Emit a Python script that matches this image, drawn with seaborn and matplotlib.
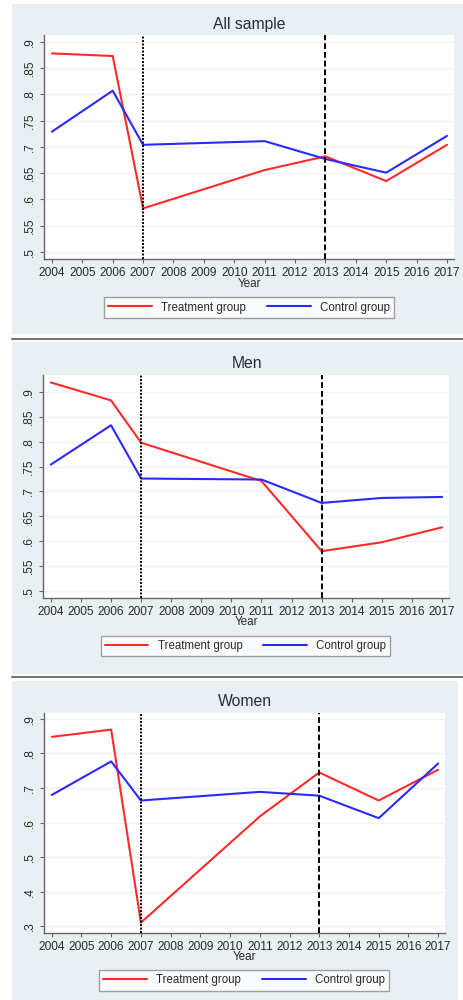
import numpy as np
import pandas as pd
import matplotlib
matplotlib.use("Agg")
import matplotlib.pyplot as plt
from matplotlib.patches import Rectangle
from matplotlib.lines import Line2D
import seaborn as sns

# ---- data -------------------------------------------------------------
years = [2004, 2006, 2007, 2011, 2013, 2015, 2017]

all_treatment = [0.878, 0.873, 0.583, 0.656, 0.682, 0.635, 0.704]
all_control = [0.729, 0.807, 0.704, 0.711, 0.677, 0.651, 0.721]

men_treatment = [0.919, 0.883, 0.798, 0.721, 0.580, 0.598, 0.628]
men_control = [0.754, 0.833, 0.726, 0.724, 0.677, 0.687, 0.689]

women_treatment = [0.848, 0.869, 0.311, 0.618, 0.745, 0.664, 0.753]
women_control = [0.680, 0.777, 0.664, 0.689, 0.678, 0.613, 0.771]

panel_titles = ["All sample", "Men", "Women"]
group_names = ["Treatment group", "Control group"]
x_ticks = list(range(2004, 2018))
y_ticks_a = [0.5, 0.55, 0.6, 0.65, 0.7, 0.75, 0.8, 0.85, 0.9]
y_labels_a = [".5", ".55", ".6", ".65", ".7", ".75", ".8", ".85", ".9"]
y_ticks_b = [0.3, 0.4, 0.5, 0.6, 0.7, 0.8, 0.9]
y_labels_b = [".3", ".4", ".5", ".6", ".7", ".8", ".9"]
event_years = [2007, 2013]

# ---- style ------------------------------------------------------------
sns.set_theme(style="white")
plt.rcParams["font.family"] = ["Liberation Sans", "DejaVu Sans"]

W, H = 463, 1000
fig = plt.figure(figsize=(W / 100, H / 100), dpi=100)
fig.patch.set_facecolor("white")

BG = "#e9f0f3"
AXIS = "#666666"
TXT = "#2a2a2a"
palette = {"Treatment group": "#ff2a2a", "Control group": "#2a2aff"}


def fx(px):
    return px / W


def fy(py):
    return 1 - py / H


# panel backgrounds and separators (pixel boxes: left, top, right, bottom)
for (l, t, r, b) in [(12, 4, 463, 334), (12, 342, 463, 674), (12, 681, 458, 1000)]:
    fig.patches.append(Rectangle((fx(l), fy(b)), fx(r - l), (b - t) / H,
                                 transform=fig.transFigure, facecolor=BG,
                                 edgecolor="none", zorder=-2))
for yline in [338.5, 677]:
    fig.lines.append(Line2D([fx(12), fx(463)], [fy(yline), fy(yline)],
                            transform=fig.transFigure, color="#777777",
                            lw=1.5, zorder=-1))

panels = [
    dict(title=panel_titles[0], t=all_treatment, c=all_control,
         box=(44, 35, 454, 259), ylim=(0.4867, 0.913),
         yt=y_ticks_a, yl=y_labels_a, title_y=24, title_x=249,
         year_x=249, year_y=284, leg=(249, 307.5)),
    dict(title=panel_titles[1], t=men_treatment, c=men_control,
         box=(43, 375, 449, 598), ylim=(0.486, 0.934),
         yt=y_ticks_a, yl=y_labels_a, title_y=364, title_x=247,
         year_x=246, year_y=622, leg=(245.5, 646)),
    dict(title=panel_titles[2], t=women_treatment, c=women_control,
         box=(44, 713, 445, 933), ylim=(0.281, 0.917),
         yt=y_ticks_b, yl=y_labels_b, title_y=701.5, title_x=245,
         year_x=244, year_y=957.5, leg=(244, 980.5)),
]

for p in panels:
    l, t, r, b = p["box"]
    ax = fig.add_axes([fx(l), fy(b), fx(r - l), (b - t) / H])
    ax.set_facecolor("white")

    df = pd.DataFrame({
        "Year": years * 2,
        "value": p["t"] + p["c"],
        "group": [group_names[0]] * len(years) + [group_names[1]] * len(years),
    })
    sns.lineplot(data=df, x="Year", y="value", hue="group",
                 hue_order=group_names, palette=palette, lw=1.5,
                 ax=ax, legend=False, zorder=3)

    ax.axvline(event_years[0], color="black", lw=1.4,
               linestyle=(0, (1, 0.8)), zorder=4)
    ax.axvline(event_years[1], color="black", lw=1.4,
               linestyle=(0, (3, 1.5)), zorder=4)

    ax.set_xlim(2003.74, 2017.23)
    ax.set_ylim(*p["ylim"])
    ax.set_xticks(x_ticks)
    ax.set_xticklabels([str(v) for v in x_ticks])
    ax.set_yticks(p["yt"])
    ax.set_yticklabels(p["yl"], rotation=90, va="center")
    ax.grid(axis="y", color="#edf2f4", lw=0.9)
    ax.set_axisbelow(True)

    for s in ["top", "right"]:
        ax.spines[s].set_visible(False)
    for s in ["left", "bottom"]:
        ax.spines[s].set_color(AXIS)
        ax.spines[s].set_linewidth(1.0)
    ax.tick_params(axis="both", which="major", length=3.2, width=0.8,
                   color=AXIS, labelsize=8.6, labelcolor=TXT, pad=2.5,
                   left=True, bottom=True)
    ax.set_xlabel("")
    ax.set_ylabel("")

    fig.text(fx(p["title_x"]), fy(p["title_y"]), p["title"], ha="center",
             va="center", fontsize=11.3, color="#25303c")
    fig.text(fx(p["year_x"]), fy(p["year_y"]), "Year", ha="center",
             va="center", fontsize=8.4, color=TXT)

    handles = [Line2D([], [], color=palette[g], lw=1.5) for g in group_names]
    leg = fig.legend(handles, group_names, loc="center",
                     bbox_to_anchor=(fx(p["leg"][0]), fy(p["leg"][1])),
                     bbox_transform=fig.transFigure, ncol=2, fontsize=8.3,
                     frameon=True, fancybox=False, handlelength=3.8,
                     handletextpad=0.8, columnspacing=1.8, borderpad=0.35,
                     borderaxespad=0)
    frame = leg.get_frame()
    frame.set_edgecolor("#8a8a8a")
    frame.set_linewidth(1.0)
    frame.set_facecolor("white")
    for txt in leg.get_texts():
        txt.set_color(TXT)

fig.savefig("out.png", dpi=100, facecolor="white")
